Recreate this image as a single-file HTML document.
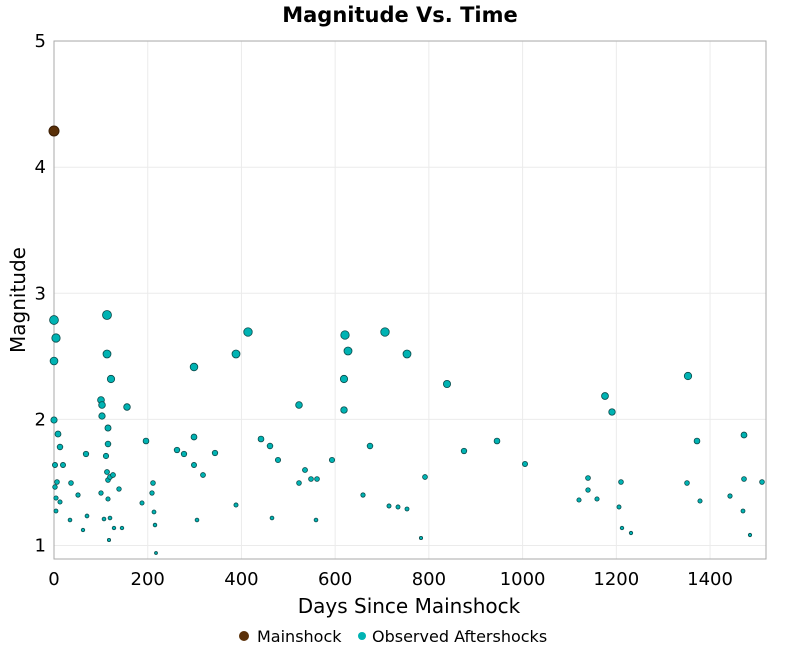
<!DOCTYPE html>
<html><head><meta charset="utf-8"><style>
body{margin:0;background:#fff;font-family:"DejaVu Sans","Liberation Sans",sans-serif}
</style></head><body>
<svg id="s" width="800" height="650" xmlns="http://www.w3.org/2000/svg" font-family="DejaVu Sans, Liberation Sans, sans-serif">
<rect width="800" height="650" fill="#fff"/>
<text x="400" y="22" text-anchor="middle" font-size="21" font-weight="bold">Magnitude Vs. Time</text>
<g id="grid" stroke="#ebebeb" stroke-width="1"></g>
<rect x="54" y="41" width="712" height="518" fill="none" stroke="#aaa"/>
<g id="ticks" font-size="18" fill="#000"></g>
<g id="pts"></g>
<text x="409" y="613" text-anchor="middle" font-size="20">Days Since Mainshock</text>
<text transform="translate(25,300) rotate(-90)" text-anchor="middle" font-size="20">Magnitude</text>
<circle cx="244" cy="636" r="5" fill="#5a3008"/>
<text x="257" y="642" font-size="16">Mainshock</text>
<circle cx="362" cy="636" r="4" fill="#00b3b3"/>
<text x="372" y="642" font-size="16">Observed Aftershocks</text>
</svg>
<script>
var NS="http://www.w3.org/2000/svg";
function el(p,t,a,txt){var e=document.createElementNS(NS,t);for(var k in a)e.setAttribute(k,a[k]);if(txt)e.textContent=txt;document.getElementById(p).appendChild(e);}
for(var d=0;d<=1400;d+=200){var x=54+d*0.4686;el("grid","line",{x1:x,x2:x,y1:41,y2:559});el("ticks","text",{x:x,y:585,"text-anchor":"middle"},String(d));}
for(var m=1;m<=5;m++){var y=545.5-(m-1)*126.1;el("grid","line",{x1:54,x2:766,y1:y,y2:y});el("ticks","text",{x:46,y:y+6,"text-anchor":"end"},String(m));}
el("pts","circle",{cx:54,cy:131,r:5,fill:"#5a3008",stroke:"#3a1e05","stroke-width":1});
var P=[54,320,56,338,54,361,54,420,55,465,55,487,56,498,56,511,58,434,60,447,57,482,60,502,63,465,70,520,71,483,78,495,83,530,87,516,86,454,101,493,101,400,102,405,102,416,104,519,106,456,107,472,108,499,108,480,109,540,108,444,108,428,110,477,110,518,107,354,107,315,111,379,113,475,114,528,119,489,127,407,122,528,146,441,142,503,153,483,152,493,154,512,155,525,156,553,
236,354,248,332,299,405,261,439,215,453,203,475,236,505,272,518,299,483,305,470,311,479,317,479,345,335,348,351,344,379,344,410,385,332,407,354,447,384,270,446,278,460,332,460,370,446,363,495,389,506,398,507,407,509,425,477,421,538,316,520,464,451,497,441,
525,464,605,396,612,412,597,499,588,478,588,490,579,500,621,482,619,507,622,528,631,533,688,376,697,441,687,483,700,501,744,435,730,496,744,479,743,511,762,482,750,535,194,437,194,465,197,520,177,450,184,454,194,367];
for(var i=0;i<P.length;i+=2){var mg=(545-P[i+1])/126+1;var r=1.4+(mg-0.9)*1.6;el("pts","circle",{cx:P[i],cy:P[i+1],r:r.toFixed(2),fill:"#00b3b3",stroke:"#0a4a4a","stroke-width":0.8});}
</script>
</body></html>
